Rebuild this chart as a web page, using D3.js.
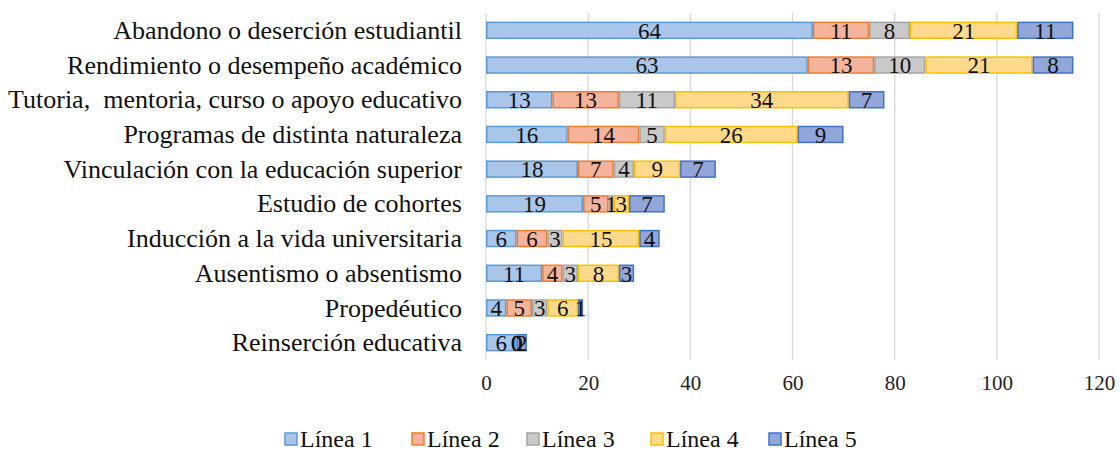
<!DOCTYPE html>
<html><head><meta charset="utf-8">
<script src="https://cdn.jsdelivr.net/npm/d3@7"></script>
<style>
body{margin:0;background:#fff;}
svg{display:block;font-family:"Liberation Serif","DejaVu Serif",serif;}
text{white-space:pre;}
</style></head>
<body>
<svg id="chart" width="1120" height="453"></svg>
<script>
const categories = [
  "Abandono o deserción estudiantil",
  "Rendimiento o desempeño académico",
  "Tutoria,  mentoria, curso o apoyo educativo",
  "Programas de distinta naturaleza",
  "Vinculación con la educación superior",
  "Estudio de cohortes",
  "Inducción a la vida universitaria",
  "Ausentismo o absentismo",
  "Propedéutico",
  "Reinserción educativa"
];
const seriesNames = ["Línea 1","Línea 2","Línea 3","Línea 4","Línea 5"];
const linea1 = [64,63,13,16,18,19,6,11,4,6];
const linea2 = [11,13,13,14,7,5,6,4,5,0];
const linea3 = [8,10,11,5,4,1,3,3,3,0];
const linea4 = [21,21,34,26,9,3,15,8,6,0];
const linea5 = [11,8,7,9,7,7,4,3,1,2];
const xTicks = [0,20,40,60,80,100,120];

const fills = ["#a9c6ea","#f6b39c","#c9c9c9","#ffd98c","#92a6da"];
const strokes = ["#5b9bd5","#ed7d31","#a5a5a5","#ffc000","#4472c4"];

const allSeries = [linea1,linea2,linea3,linea4,linea5];
const table = categories.map((c,i)=>{
  const o={cat:c};
  seriesNames.forEach((s,j)=>o[s]=allSeries[j][i]);
  return o;
});
const stacked = d3.stack().keys(seriesNames)(table);

const svg = d3.select("#chart");
const x = d3.scaleLinear().domain([0,120]).range([486,1099]);
const y = d3.scaleBand().domain(categories).range([13,360]).paddingInner(0.54).paddingOuter(0.27);

// gridlines
svg.append("g").selectAll("line").data(xTicks).join("line")
  .attr("x1",d=>x(d)).attr("x2",d=>x(d))
  .attr("y1",13).attr("y2",360)
  .attr("stroke","#d9d9d9").attr("stroke-width",1.3);

// x axis labels
const xAxis = d3.axisBottom(x).tickValues(xTicks).tickSize(0).tickPadding(0);
const gx = svg.append("g").attr("transform","translate(0,375)").call(xAxis);
gx.select(".domain").remove();
gx.selectAll("text").attr("font-size",21).attr("fill","#222").attr("font-family","Liberation Serif").attr("dy","0.71em");

// y axis labels
const yAxis = d3.axisLeft(y).tickSize(0).tickPadding(0);
const gy = svg.append("g").attr("transform","translate(462,0)").call(yAxis);
gy.select(".domain").remove();
gy.selectAll("text").attr("font-size",26).attr("fill","#111").attr("font-family","Liberation Serif").attr("dy","0.33em");

// bars
const layers = svg.append("g").selectAll("g").data(stacked).join("g")
  .attr("fill",(d,i)=>fills[i]).attr("stroke",(d,i)=>strokes[i]);
layers.selectAll("rect").data(d=>d).join("rect")
  .attr("x",d=>x(d[0])+0.75)
  .attr("width",d=>Math.max(0,x(d[1])-x(d[0])-1.5))
  .attr("y",(d,i)=>y(categories[i]))
  .attr("height",y.bandwidth())
  .attr("stroke-width",1.5)
  .attr("opacity",d=>d[1]-d[0]>0?1:0);

// data labels
const lg = svg.append("g");
stacked.forEach((layer,j)=>{
  lg.selectAll(null).data(layer).join("text")
    .attr("x",d=>(x(d[0])+x(d[1]))/2)
    .attr("y",(d,i)=>y(categories[i])+y.bandwidth()/2)
    .attr("dy","0.36em")
    .attr("text-anchor","middle")
    .attr("font-size",23)
    .attr("fill","#111")
    .text(d=>d[1]-d[0]);
});

// legend
const legX = [285,412,527,651,769];
const leg = svg.append("g").selectAll("g").data(seriesNames).join("g")
  .attr("transform",(d,i)=>`translate(${legX[i]},433)`);
leg.append("rect").attr("width",12).attr("height",12).attr("y",0)
  .attr("fill",(d,i)=>fills[i]).attr("stroke",(d,i)=>strokes[i]).attr("stroke-width",1.5);
leg.append("text").attr("x",15).attr("y",6).attr("dy","0.34em")
  .attr("font-size",24).attr("fill","#111").text(d=>d);
</script>
</body></html>
